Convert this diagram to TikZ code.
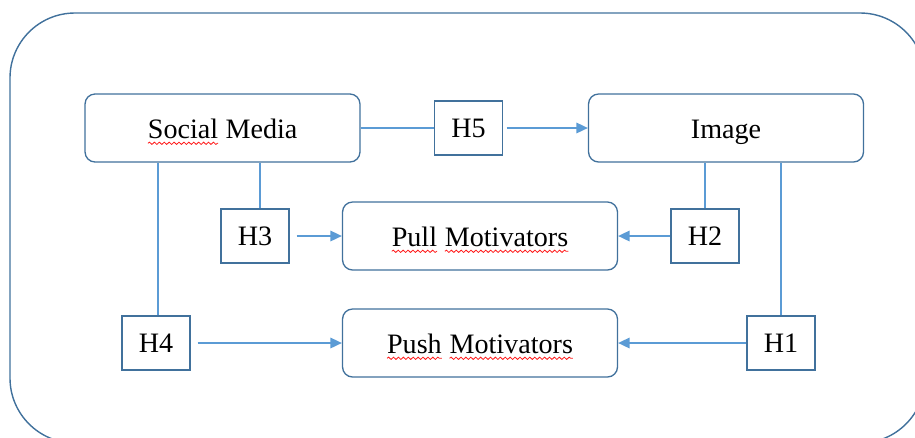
\documentclass[tikz,border=0pt]{standalone}
\usepackage{fontspec}
\setmainfont{Liberation Serif}
\usetikzlibrary{arrows.meta,decorations.pathmorphing}
\definecolor{boxblue}{RGB}{65,113,156}
\definecolor{lineblue}{RGB}{91,155,213}
\newcommand\spellmark[1]{\tikz[baseline=(w.base)]{%
  \node[draw=none, fill=none, inner sep=0pt, outer sep=0pt, rounded corners=0pt,
        minimum width=0pt, minimum height=0pt] (w) {#1};
  \draw[red!90, line width=0.45pt, rounded corners=0pt, decorate,
        decoration={snake, amplitude=0.65pt, segment length=2.8pt}]
    ([yshift=-3pt]w.base west) -- ([yshift=-3pt]w.base east);}}
\tikzset{factor box/.style={
    draw=boxblue, line width=0.75pt, rounded corners=0.2cm, fill=white,
    minimum width=5.5cm, minimum height=1.36cm,
    text height=12pt, text depth=0.6pt,
    font=\fontsize{16}{19}\selectfont,
  },
  hyp box/.style={
    draw=boxblue, line width=0.75pt, fill=white,
    minimum width=1.36cm, minimum height=1.08cm,
    font=\fontsize{16}{19}\selectfont,
  },
  link/.style={draw=lineblue, line width=0.8pt},
  effect/.style={link, -{Triangle[length=6.5pt,width=6pt]}},
}

\begin{document}
\begin{tikzpicture}[x=0.02cm, y=-0.02cm]
\clip (0,0) rectangle (915,437);
\draw[boxblue, line width=0.8pt, rounded corners=1.3cm] (10,13) rectangle (925,443);
% the four factors
\node[factor box] (social) at (222.5,128) {\spellmark{Social} Media};
\node[factor box] (image) at (726,128) {Image};
\node[factor box] (pull) at (480,236) {\spellmark{Pull} \spellmark{Motivators}};
\node[factor box] (push) at (480,343) {\spellmark{Push} \spellmark{Motivators}};
% hypotheses
\node[hyp box] (h5) at (468.5,128) {H5};
\node[hyp box] (h3) at (255,236) {H3};
\node[hyp box] (h2) at (705,236) {H2};
\node[hyp box] (h4) at (156,343) {H4};
\node[hyp box] (h1) at (781,343) {H1};
\draw[link] (social.east) -- (h5.west);
\draw[effect, shorten <=2pt] (h5.east) -- (image.west);
\draw[link] ([xshift=0.1cm]h3.north) -- ([xshift=0.1cm]h3.north |- social.south);
\draw[link] ([xshift=0.04cm]h4.north) -- ([xshift=0.04cm]h4.north |- social.south);
\draw[link] (h2.north) -- (h2.north |- image.south);
\draw[link] (h1.north) -- (h1.north |- image.south);
\draw[effect, shorten <=4pt] (h3.east) -- (pull.west);
\draw[effect, shorten <=4pt] (h4.east) -- (push.west);
\draw[effect] (h2.west) -- (pull.east);
\draw[effect] (h1.west) -- (push.east);
\end{tikzpicture}
\end{document}
